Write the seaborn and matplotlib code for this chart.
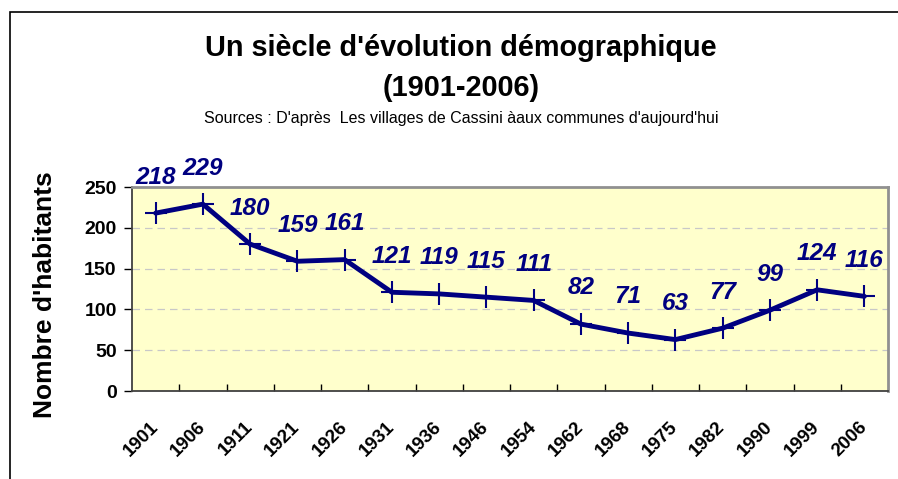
import numpy as np
import pandas as pd
import seaborn as sns
import matplotlib.pyplot as plt
from matplotlib.patches import Rectangle
from matplotlib.ticker import FixedLocator

years = ["1901", "1906", "1911", "1921", "1926", "1931", "1936", "1946",
         "1954", "1962", "1968", "1975", "1982", "1990", "1999", "2006"]
habitants = [218, 229, 180, 159, 161, 121, 119, 115, 111, 82, 71, 63, 77, 99, 124, 116]
y_ticks = [0, 50, 100, 150, 200, 250]

sns.set_style("white")
plt.rcParams['font.family'] = ['Liberation Sans', 'DejaVu Sans']
plt.rcParams['text.color'] = 'black'
plt.rcParams['axes.labelcolor'] = 'black'
plt.rcParams['xtick.color'] = 'black'
plt.rcParams['ytick.color'] = 'black'

navy = "#000080"
df = pd.DataFrame({"annee": years, "habitants": habitants})

fig = plt.figure(figsize=(8.98, 4.79), dpi=100)
ax = fig.add_axes([132 / 898, 1 - 391 / 479, 756 / 898, 204 / 479])
ax.set_facecolor("#FFFFCC")

sns.lineplot(data=df, x="annee", y="habitants", sort=False, ax=ax,
             color=navy, linewidth=3.5, marker="+", markersize=16,
             markeredgewidth=1.5, markeredgecolor=navy)

ax.set_xlim(-0.5, len(years) - 0.5)
ax.set_ylim(0, 250)
ax.set_yticks(y_ticks)
ax.set_yticklabels([str(v) for v in y_ticks], fontsize=14, fontweight="bold")
ax.set_xticks(range(len(years)))
ax.set_xticklabels(years, rotation=45, ha="right", va="center", rotation_mode="anchor",
                   fontsize=13.5, fontweight="bold")
ax.xaxis.set_minor_locator(FixedLocator(np.arange(0.5, len(years) - 0.5, 1)))
ax.tick_params(axis="x", which="major", direction="out", length=6, width=1, pad=18)
ax.tick_params(axis="x", which="minor", direction="in", length=5, width=1, bottom=True)
ax.tick_params(axis="y", direction="out", length=6, width=1, left=True, pad=5)

for v in y_ticks[1:-1]:
    ax.axhline(v, color="#C8C8C8", linestyle=(0, (6, 4)), linewidth=0.9, zorder=0)

for sp in ["left", "bottom"]:
    ax.spines[sp].set_color("#404040")
    ax.spines[sp].set_linewidth(1.3)
for sp in ["top", "right"]:
    ax.spines[sp].set_color("#909090")
    ax.spines[sp].set_linewidth(2)

for i, v in enumerate(habitants):
    ax.annotate(str(v), (i, v), xytext=(0, 26), textcoords="offset points",
                ha="center", va="center", fontsize=17.5, fontweight="bold",
                fontstyle="italic", color=navy, annotation_clip=False)

ax.set_xlabel("")
ax.set_ylabel("")
fig.text(45 / 898, 1 - 295 / 479, "Nombre d'habitants", rotation=90, ha="center",
         va="center", fontsize=19, fontweight="bold")

fig.text(461 / 898, 1 - 48 / 479, "Un siècle d'évolution démographique",
         ha="center", va="center", fontsize=20.8, fontweight="bold")
fig.text(461 / 898, 1 - 88 / 479, "(1901-2006)",
         ha="center", va="center", fontsize=20.8, fontweight="bold")
fig.text(461 / 898, 1 - 119 / 479,
         "Sources : D'après  Les villages de Cassini àaux communes d'aujourd'hui",
         ha="center", va="center", fontsize=11.5)

fig.add_artist(Rectangle((10 / 898, -0.1), 1.0, 1 - 12 / 479 + 0.1,
                         transform=fig.transFigure, fill=False,
                         edgecolor="black", linewidth=1.2))

fig.savefig("out.png", dpi=100)
